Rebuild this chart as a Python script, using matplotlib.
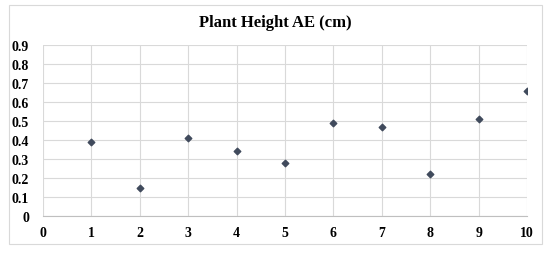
import matplotlib.pyplot as plt
from matplotlib.patches import Rectangle

# data
x_vals = [1, 2, 3, 4, 5, 6, 7, 8, 9, 10]
y_vals = [0.39, 0.15, 0.41, 0.34, 0.28, 0.49, 0.47, 0.22, 0.51, 0.66]
x_ticks = list(range(0, 11))
y_ticks = [0, 0.1, 0.2, 0.3, 0.4, 0.5, 0.6, 0.7, 0.8, 0.9]
title = "Plant Height AE (cm)"

plt.rcParams['font.family'] = ['Liberation Serif', 'DejaVu Serif']
plt.rcParams['font.weight'] = 'bold'

W, H = 550, 255
fig = plt.figure(figsize=(W / 100, H / 100), dpi=100)
# outer chart border
fig.patches.append(Rectangle((9 / W, 1 - 245 / H), 533 / W, 239 / H,
                             transform=fig.transFigure, fill=False,
                             edgecolor='#D9D9D9', linewidth=0.8))

ax = fig.add_axes([43 / W, 1 - 217 / H, 484 / W, 171 / H])
ax.scatter(x_vals, y_vals, marker='D', s=11, color='#404A5C', zorder=3)

ax.set_xlim(0, 10)
ax.set_ylim(0, 0.9)
ax.set_xticks(x_ticks)
ax.set_yticks(y_ticks)
ax.set_yticklabels([('%g' % v) for v in y_ticks])
ax.grid(True, color='#D9D9D9', linewidth=0.8)
ax.set_axisbelow(True)
for side in ['top', 'right', 'left']:
    ax.spines[side].set_visible(False)
ax.spines['bottom'].set_color('#BFBFBF')
ax.tick_params(length=0, labelsize=10, pad=7)
ax.tick_params(axis='y', pad=10)
for lab in ax.get_xticklabels() + ax.get_yticklabels():
    lab.set_fontweight('bold')

fig.text(275 / W, 1 - 23 / H, title, ha='center', va='center',
         fontsize=12, fontweight='bold')

fig.savefig('out.png', dpi=100)
